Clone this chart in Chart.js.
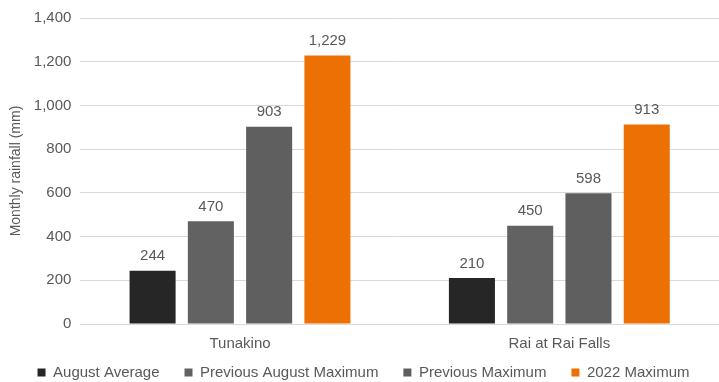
<html>
<head>
<script src="https://cdn.jsdelivr.net/npm/chart.js@4.4.1/dist/chart.umd.min.js"></script>
<style>
body{margin:0;background:#fff;}
#wrap{width:719px;height:382px;position:relative;}
</style>
</head>
<body>
<div id="wrap"><canvas id="rain"></canvas></div>
<script>
// sites and monthly rainfall (mm)
var sites = ['Tunakino', 'Rai at Rai Falls'];
var augAverage = [244, 210];
var prevAugMax = [470, 450];
var prevMax = [903, 598];
var max2022 = [1229, 913];
var yTicks = [0, 200, 400, 600, 800, 1000, 1200, 1400];

var FONT = '"Liberation Sans", Arial, sans-serif';
var TXT = '#595959';

// value labels on top of bars
var barLabels = {
  id: 'barLabels',
  afterDatasetsDraw: function(chart){
    var ctx = chart.ctx;
    ctx.save();
    ctx.font = '15px ' + FONT;
    ctx.fillStyle = TXT;
    ctx.textAlign = 'center';
    ctx.textBaseline = 'bottom';
    chart.data.datasets.forEach(function(ds, i){
      chart.getDatasetMeta(i).data.forEach(function(bar, j){
        ctx.fillText(ds.data[j].toLocaleString('en-US'), bar.x, bar.y - 7);
      });
    });
    ctx.restore();
  }
};

// the legend takes little room from the plot, but its row still sits low
var legendHeight = {
  id: 'legendHeight',
  beforeLayout: function(chart){
    var lg = chart.legend;
    if (lg && !lg._patched) {
      var fit = lg.fit;
      lg.fit = function(){ fit.call(this); this.height = 26; };
      lg._patched = true;
    }
  },
  afterLayout: function(chart){
    var lg = chart.legend;
    if (lg) { lg.top = lg.bottom - 42; lg.height = 42; }
  }
};

var chart = new Chart(document.getElementById('rain').getContext('2d'), {
  type: 'bar',
  data: {
    labels: sites,
    datasets: [
      {label: 'August Average', data: augAverage, backgroundColor: '#262626'},
      {label: 'Previous August Maximum', data: prevAugMax, backgroundColor: '#626262'},
      {label: 'Previous Maximum', data: prevMax, backgroundColor: '#5f5f5f'},
      {label: '2022 Maximum', data: max2022, backgroundColor: '#ed7004'}
    ]
  },
  options: {
    responsive: true,
    maintainAspectRatio: false,
    animation: false,
    layout: {padding: {top: 1, right: 0, left: 8, bottom: 0}},
    datasets: {bar: {barPercentage: 0.79, categoryPercentage: 0.73}},
    plugins: {
      tooltip: {enabled: false},
      legend: {
        position: 'bottom',
        labels: {
          boxWidth: 8, boxHeight: 8, padding: 25,
          color: TXT, font: {family: FONT, size: 15}
        }
      }
    },
    scales: {
      x: {
        grid: {display: false},
        border: {color: '#d9d9d9'},
        ticks: {color: TXT, font: {family: FONT, size: 15}, padding: 3}
      },
      y: {
        min: 0, max: 1400,
        afterBuildTicks: function(s){ s.ticks = yTicks.map(function(v){ return {value: v}; }); },
        grid: {color: '#d9d9d9', drawTicks: false},
        border: {display: false},
        ticks: {
          color: TXT, font: {family: FONT, size: 15}, padding: 9,
          callback: function(v){ return v.toLocaleString('en-US'); }
        },
        title: {display: true, text: 'Monthly rainfall (mm)', color: TXT, font: {family: FONT, size: 14}, padding: 0}
      }
    }
  },
  plugins: [barLabels, legendHeight]
});
</script>
</body>
</html>
